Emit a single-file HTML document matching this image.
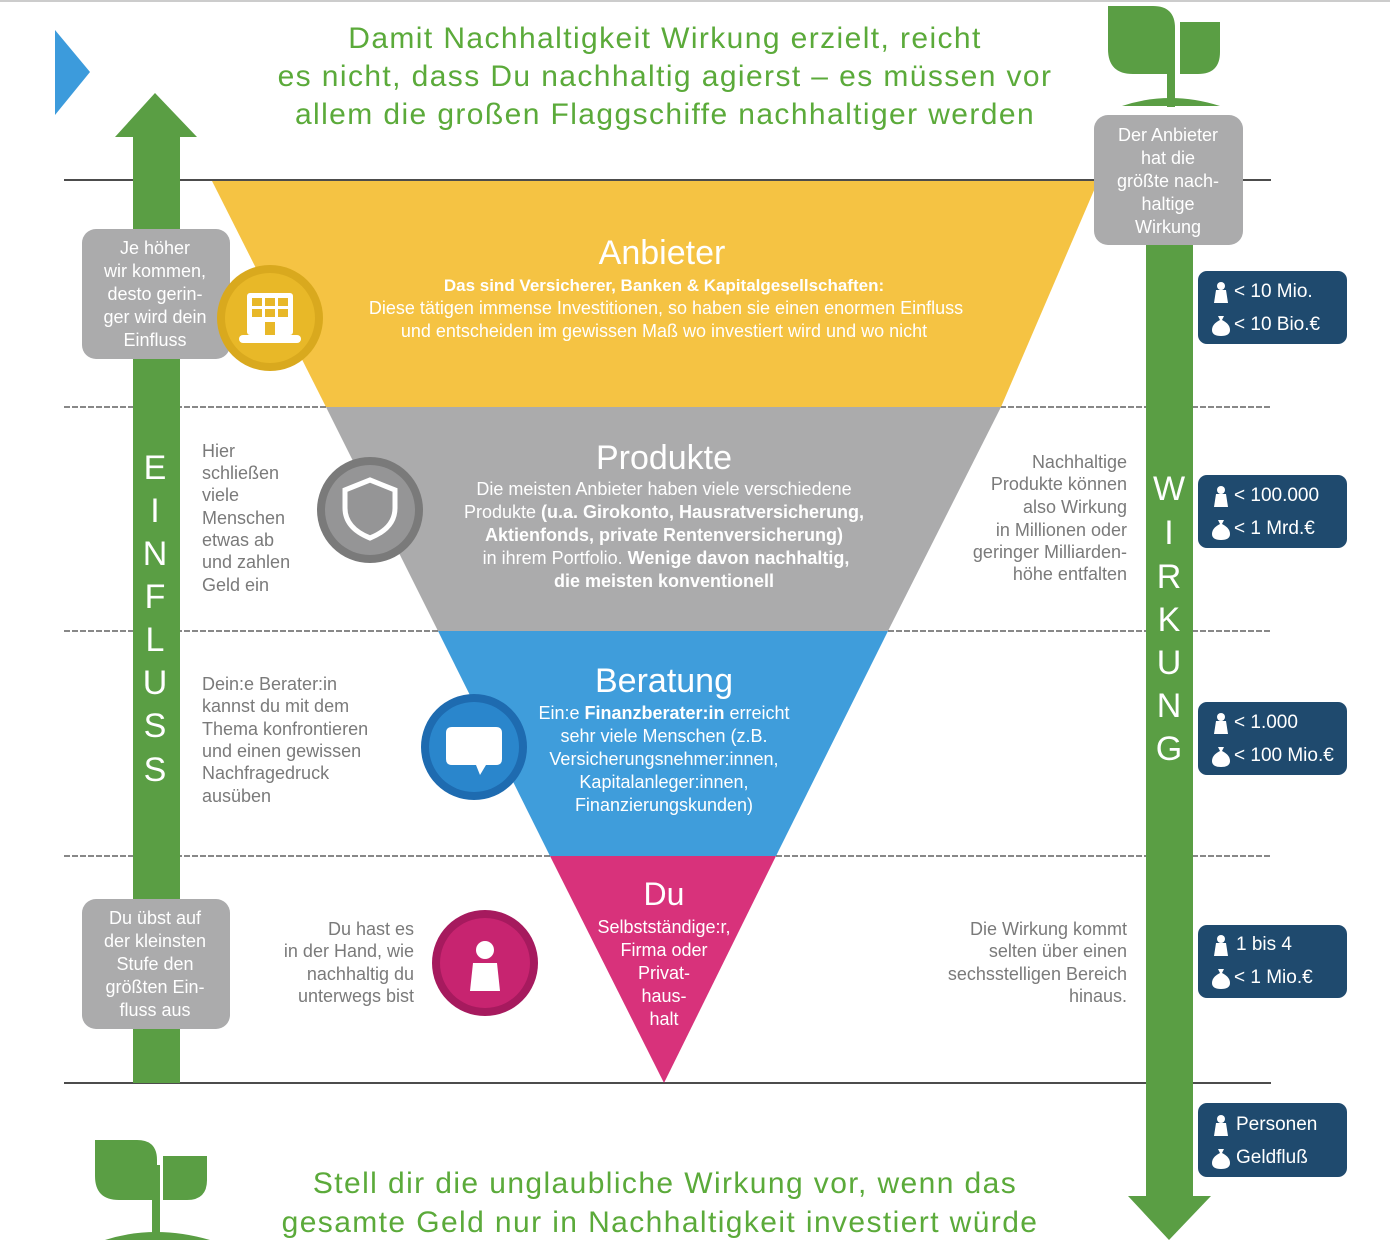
<!DOCTYPE html>
<html><head><meta charset="utf-8"><style>
body{margin:0;background:#fff;}
svg{display:block;font-family:"Liberation Sans",sans-serif;}
</style></head><body>
<svg width="1390" height="1254" viewBox="0 0 1390 1254" xmlns="http://www.w3.org/2000/svg">
<rect x="0" y="0" width="1390" height="2" fill="#ccc"/>
<polygon points="55,30 90,72 55,115" fill="#3C9BDC"/>
<line x1="64" y1="180" x2="1271" y2="180" stroke="#111" stroke-width="1.5"/>
<line x1="64" y1="407" x2="1271" y2="407" stroke="#111" stroke-width="1" stroke-dasharray="6,2"/>
<line x1="64" y1="631" x2="1271" y2="631" stroke="#111" stroke-width="1" stroke-dasharray="6,2"/>
<line x1="64" y1="856" x2="1271" y2="856" stroke="#111" stroke-width="1" stroke-dasharray="6,2"/>
<line x1="64" y1="1083" x2="1271" y2="1083" stroke="#111" stroke-width="1.5"/>
<polygon points="212,181 1098,181 1001,407 326,407" fill="#F5C343"/>
<polygon points="326,407 1001,407 888,631 438,631" fill="#ABABAC"/>
<polygon points="438,631 888,631 776,856 550,856" fill="#3F9DDB"/>
<polygon points="550,856 776,856 664,1083" fill="#D8327B"/>
<rect x="133" y="135" width="47" height="948" fill="#5A9E44"/>
<polygon points="155,93 197,137 115,137" fill="#5A9E44"/>
<rect x="1146" y="230" width="47" height="968" fill="#5A9E44"/>
<polygon points="1128,1196 1211,1196 1169,1240" fill="#5A9E44"/>
<g fill="#5A9E44">
<path d="M1108,6 h45 q22,0 22,22 v46 h-42 q-25,0 -25,-25z"/>
<path d="M1180,22 h40 v30 q0,22 -22,22 h-18z"/>
<rect x="1167" y="35" width="8" height="72"/>
<path d="M1122,106 q48,-16 98,0z"/>
<path d="M95,1140 h42 q20,0 20,20 v40 h-38 q-24,0 -24,-24z"/>
<path d="M163,1156 h44 v24 q0,20 -20,20 h-24z"/>
<rect x="152" y="1165" width="8" height="75"/>
<path d="M105,1240 q50,-16 105,0z"/>
</g>
<g fill="#5BAA3A" font-size="30" text-anchor="middle" letter-spacing="1.4">
<text x="665" y="48">Damit Nachhaltigkeit Wirkung erzielt, reicht</text>
<text x="665" y="86">es nicht, dass Du nachhaltig agierst – es müssen vor</text>
<text x="665" y="124">allem die großen Flaggschiffe nachhaltiger werden</text>
<text x="665" y="1193">Stell dir die unglaubliche Wirkung vor, wenn das</text>
<text x="660" y="1232">gesamte Geld nur in Nachhaltigkeit investiert würde</text>
</g>
<g fill="#ABABAC">
<rect x="82" y="229" width="148" height="130" rx="14"/>
<rect x="82" y="899" width="148" height="130" rx="14"/>
<rect x="1094" y="115" width="149" height="130" rx="14"/>
</g>
<g fill="#fff" font-size="18" text-anchor="middle">
<text x="155" y="254">Je höher</text><text x="155" y="277">wir kommen,</text><text x="155" y="300">desto gerin-</text><text x="155" y="323">ger wird dein</text><text x="155" y="346">Einfluss</text>
<text x="155" y="924">Du übst auf</text><text x="155" y="947">der kleinsten</text><text x="155" y="970">Stufe den</text><text x="155" y="993">größten Ein-</text><text x="155" y="1016">fluss aus</text>
<text x="1168" y="141">Der Anbieter</text><text x="1168" y="164">hat die</text><text x="1168" y="187">größte nach-</text><text x="1168" y="210">haltige</text><text x="1168" y="233">Wirkung</text>
</g>
<g fill="#fff" font-size="34" text-anchor="middle">
<text x="155" y="479">E</text><text x="155" y="522">I</text><text x="155" y="565">N</text><text x="155" y="608">F</text><text x="155" y="651">L</text><text x="155" y="694">U</text><text x="155" y="737">S</text><text x="155" y="781">S</text>
<text x="1169" y="500">W</text><text x="1169" y="544">I</text><text x="1169" y="588">R</text><text x="1169" y="631">K</text><text x="1169" y="674">U</text><text x="1169" y="717">N</text><text x="1169" y="760">G</text>
</g>
<circle cx="270" cy="318" r="53" fill="#D9A91E"/><circle cx="270" cy="318" r="45" fill="#E8B828"/>
<g fill="#fff"><rect x="247" y="293" width="46" height="42" rx="3"/><rect x="239" y="335" width="62" height="8" rx="4"/></g>
<g fill="#E8B828"><rect x="252" y="298" width="10" height="8"/><rect x="265" y="298" width="10" height="8"/><rect x="278" y="298" width="10" height="8"/><rect x="252" y="309" width="10" height="8"/><rect x="265" y="309" width="10" height="8"/><rect x="278" y="309" width="10" height="8"/><rect x="265" y="322" width="10" height="13"/></g>
<circle cx="370" cy="510" r="53" fill="#7a7a7a"/><circle cx="370" cy="510" r="45" fill="#959596"/>
<path d="M370,480 l25,10 v18 q0,20 -25,30 q-25,-10 -25,-30 v-18z" fill="none" stroke="#fff" stroke-width="5"/>
<circle cx="474" cy="747" r="53" fill="#1E6BB0"/><circle cx="474" cy="747" r="45" fill="#2A86CC"/>
<path d="M452,727 h44 q6,0 6,6 v26 q0,6 -6,6 h-10 l-6,10 l-4,-10 h-24 q-6,0 -6,-6 v-26 q0,-6 6,-6z" fill="#fff"/>
<circle cx="485" cy="963" r="53" fill="#A61A5E"/><circle cx="485" cy="963" r="45" fill="#C72470"/>
<circle cx="485" cy="950" r="9" fill="#fff"/><path d="M473,963 h24 l3,28 h-30z" fill="#fff"/>
<g text-anchor="middle" fill="#fff">
<text x="662" y="264" font-size="34">Anbieter</text>
<text x="664" y="291" font-size="17" font-weight="bold">Das sind Versicherer, Banken &amp; Kapitalgesellschaften:</text>
<text x="666" y="314" font-size="18">Diese tätigen immense Investitionen, so haben sie einen enormen Einfluss</text>
<text x="664" y="337" font-size="18">und entscheiden im gewissen Maß wo investiert wird und wo nicht</text>
<text x="664" y="469" font-size="34">Produkte</text>
<text x="664" y="495" font-size="18">Die meisten Anbieter haben viele verschiedene</text>
<text x="664" y="518" font-size="18">Produkte <tspan font-weight="bold">(u.a. Girokonto, Hausratversicherung,</tspan></text>
<text x="664" y="541" font-size="18" font-weight="bold">Aktienfonds, private Rentenversicherung)</text>
<text x="666" y="564" font-size="18">in ihrem Portfolio. <tspan font-weight="bold">Wenige davon nachhaltig,</tspan></text>
<text x="664" y="587" font-size="18" font-weight="bold">die meisten konventionell</text>
<text x="664" y="692" font-size="34">Beratung</text>
<text x="664" y="719" font-size="18">Ein:e <tspan font-weight="bold">Finanzberater:in</tspan> erreicht</text>
<text x="664" y="742" font-size="18">sehr viele Menschen (z.B.</text>
<text x="664" y="765" font-size="18">Versicherungsnehmer:innen,</text>
<text x="664" y="788" font-size="18">Kapitalanleger:innen,</text>
<text x="664" y="811" font-size="18">Finanzierungskunden)</text>
<text x="664" y="905" font-size="32">Du</text>
<text x="664" y="933" font-size="18">Selbstständige:r,</text>
<text x="664" y="956" font-size="18">Firma oder</text>
<text x="664" y="979" font-size="18">Privat-</text>
<text x="664" y="1002" font-size="18">haus-</text>
<text x="664" y="1025" font-size="18">halt</text>
</g>
<g fill="#7a7a7a" font-size="18">
<text x="202" y="457">Hier</text><text x="202" y="479">schließen</text><text x="202" y="501">viele</text><text x="202" y="524">Menschen</text><text x="202" y="546">etwas ab</text><text x="202" y="568">und zahlen</text><text x="202" y="591">Geld ein</text>
<text x="202" y="690">Dein:e Berater:in</text><text x="202" y="712">kannst du mit dem</text><text x="202" y="735">Thema konfrontieren</text><text x="202" y="757">und einen gewissen</text><text x="202" y="779">Nachfragedruck</text><text x="202" y="802">ausüben</text>
</g>
<g fill="#7a7a7a" font-size="18" text-anchor="end">
<text x="414" y="935">Du hast es</text><text x="414" y="957">in der Hand, wie</text><text x="414" y="980">nachhaltig du</text><text x="414" y="1002">unterwegs bist</text>
<text x="1127" y="468">Nachhaltige</text><text x="1127" y="490">Produkte können</text><text x="1127" y="513">also Wirkung</text><text x="1127" y="536">in Millionen oder</text><text x="1127" y="558">geringer Milliarden-</text><text x="1127" y="580">höhe entfalten</text>
<text x="1127" y="935">Die Wirkung kommt</text><text x="1127" y="957">selten über einen</text><text x="1127" y="980">sechsstelligen Bereich</text><text x="1127" y="1002">hinaus.</text>
</g>
<defs>
<g id="p"><circle cx="0" cy="-7" r="4" fill="#fff"/><path d="M-5,-3 h10 l2,13 h-14z" fill="#fff"/></g>
<g id="m"><path d="M-3,-10 h6 l-2,4 q8,4 8,10 q0,6 -9,6 q-9,0 -9,-6 q0,-6 8,-10z" fill="#fff"/></g>
</defs>
<g fill="#1F4A6E">
<rect x="1198" y="271" width="149" height="73" rx="9"/>
<rect x="1198" y="475" width="149" height="73" rx="9"/>
<rect x="1198" y="702" width="149" height="73" rx="9"/>
<rect x="1198" y="925" width="149" height="73" rx="9"/>
<rect x="1198" y="1103" width="149" height="74" rx="9"/>
</g>
<g fill="#fff" font-size="19">
<use href="#p" x="1221" y="293"/><text x="1234" y="297">&lt; 10 Mio.</text>
<use href="#m" x="1221" y="326"/><text x="1234" y="330">&lt; 10 Bio.€</text>
<use href="#p" x="1221" y="497"/><text x="1234" y="501">&lt; 100.000</text>
<use href="#m" x="1221" y="530"/><text x="1234" y="534">&lt; 1 Mrd.€</text>
<use href="#p" x="1221" y="724"/><text x="1234" y="728">&lt; 1.000</text>
<use href="#m" x="1221" y="757"/><text x="1234" y="761">&lt; 100 Mio.€</text>
<use href="#p" x="1221" y="946"/><text x="1236" y="950">1 bis 4</text>
<use href="#m" x="1221" y="979"/><text x="1234" y="983">&lt; 1 Mio.€</text>
<use href="#p" x="1221" y="1126"/><text x="1236" y="1130">Personen</text>
<use href="#m" x="1221" y="1159"/><text x="1236" y="1163">Geldfluß</text>
</g>
</svg>
</body></html>
